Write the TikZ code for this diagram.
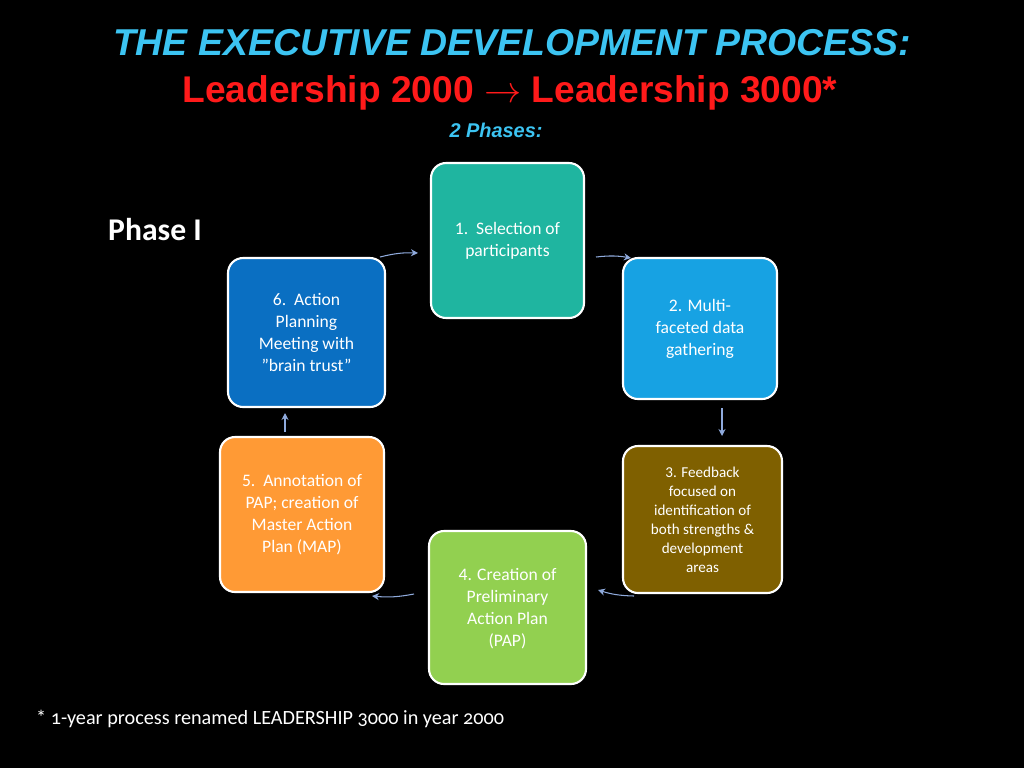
\documentclass[tikz,border=0pt]{standalone}
\usepackage{fontspec}
\setmainfont{Carlito}
\newfontfamily\titlefont{Liberation Sans}
\usetikzlibrary{arrows.meta}
\definecolor{titlecyan}{HTML}{3CC4F2}
\definecolor{titlered}{HTML}{FF1A1A}
\definecolor{stepteal}{HTML}{1FB5A0}
\definecolor{stepsky}{HTML}{17A2E3}
\definecolor{stepbrown}{HTML}{7F6000}
\definecolor{stepgreen}{HTML}{92D050}
\definecolor{steporange}{HTML}{FF9A35}
\definecolor{stepblue}{HTML}{0A6FC2}
\definecolor{arrowblue}{HTML}{8FAADC}
\tikzset{
  stepbox/.style={draw=white, line width=1.2pt, rounded corners=0.3cm, text=white,
    align=center, font=\fontsize{10}{12.5}\selectfont, inner sep=2pt},
  cyc/.style={draw=arrowblue, line width=0.6pt, -{Stealth[length=4pt,width=4pt]}}
}
\begin{document}
\begin{tikzpicture}[x=0.02cm,y=-0.02cm]
  \fill[black] (0,0) rectangle (1024,768);
  % titles
  \node (title) at (512,43) {\resizebox{15.96cm}{!}{\titlefont\bfseries\itshape\color{titlecyan}THE EXECUTIVE DEVELOPMENT PROCESS:}};
  \node (sub) at (510,93) {\resizebox{13.1cm}{!}{\titlefont\bfseries\color{titlered}Leadership 2000 $\rightarrow$ Leadership 3000*}};
  \node (phases) at (496,130) {\resizebox{1.86cm}{!}{\titlefont\bfseries\itshape\color{titlecyan}2 Phases:}};
  \node[text=white, font=\fontsize{18}{20}\selectfont\bfseries] (phase) at (155,230) {Phase I};
  % steps
  \node[stepbox, fill=stepteal, minimum width=3.06cm, minimum height=3.1cm] (s1) at (507.5,240.5) {1.\ \ Selection of\\participants};
  \node[stepbox, fill=stepsky, minimum width=3.08cm, minimum height=2.82cm] (s2) at (700,328.5) {2. Multi-\\faceted data\\gathering};
  \node[stepbox, fill=stepbrown, minimum width=3.18cm, minimum height=2.94cm, font=\fontsize{8.6}{10.8}\selectfont] (s3) at (702.5,519.5) {3. Feedback\\focused on\\identification of\\both strengths \&\\development\\areas};
  \node[stepbox, fill=stepgreen, minimum width=3.14cm, minimum height=3.06cm, text depth=0pt] (s4) at (507.5,607.5) {4. Creation of\\Preliminary\\Action Plan\\(PAP)};
  \node[stepbox, fill=steporange, minimum width=3.28cm, minimum height=3.1cm] (s5) at (302,514.5) {5.\ \ Annotation of\\PAP; creation of\\Master Action\\Plan (MAP)};
  \node[stepbox, fill=stepblue, minimum width=3.14cm, minimum height=2.98cm] (s6) at (306.5,332.5) {6.\ \ Action\\Planning\\Meeting with\\"brain trust"};
  % cycle arrows
  \coordinate (a1) at (380,257); \coordinate (b1) at (418,253);
  \coordinate (a2) at (596,257); \coordinate (b2) at (631,258);
  \coordinate (a3) at (722,408); \coordinate (b3) at (722,436);
  \coordinate (a4) at (634,596); \coordinate (b4) at (598,590);
  \coordinate (a5) at (414,594); \coordinate (b5) at (372,596);
  \coordinate (a6) at (285,432); \coordinate (b6) at (285,413);
  \draw[cyc] (a1) to[bend left=8] (b1);
  \draw[cyc] (a2) to[bend left=8] (b2);
  \draw[cyc] (a3) -- (b3);
  \draw[cyc] (a4) to[bend left=8] (b4);
  \draw[cyc] (a5) to[bend left=8] (b5);
  \draw[cyc] (a6) -- (b6);
  % footnote
  \node[text=white, anchor=west, font=\fontsize{11.5}{13}\selectfont\addfontfeatures{Numbers=OldStyle}] (note) at (30,719) {* 1-year process renamed LEADERSHIP 3000 in year 2000};
\end{tikzpicture}
\end{document}
